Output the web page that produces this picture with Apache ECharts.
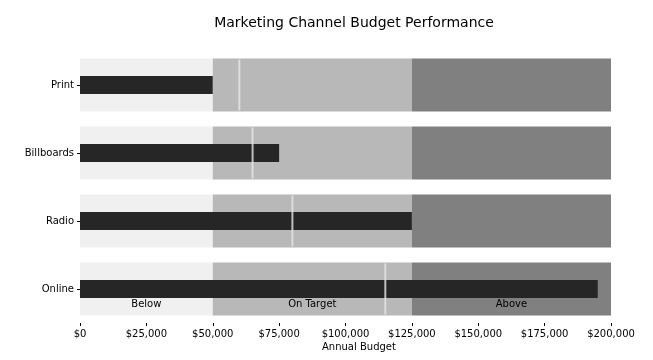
<!DOCTYPE html>
<html><head><meta charset="utf-8">
<script src="https://cdn.jsdelivr.net/npm/echarts@6/dist/echarts.min.js"></script>
<style>html,body{margin:0;padding:0;background:#fff}#c{width:653px;height:360px}</style>
</head><body><div id="c"></div>
<script>
const categories = ['Print', 'Billboards', 'Radio', 'Online'];
const actual = [50000, 75000, 125000, 195000];
const target = [60000, 65000, 80000, 115000];
const rangeLimits = [50000, 125000, 200000];
const rangeNames = ['Below', 'On Target', 'Above'];
const rangeColors = ['#f0f0f0', '#b8b8b8', '#808080'];
const xTicks = [0, 25000, 50000, 75000, 100000, 125000, 150000, 175000, 200000];

const font = 'DejaVu Sans';
const fmt = v => '$' + v.toLocaleString('en-US');

const bandSeries = rangeLimits.map((lim, i) => {
  const prev = i === 0 ? 0 : rangeLimits[i - 1];
  return {
    type: 'bar', stack: 'bands', yAxisIndex: 0, barWidth: 53, silent: true,
    itemStyle: { color: rangeColors[i] },
    data: categories.map((c, k) => ({
      value: lim - prev,
      label: k === categories.length - 1 ? {
        show: true, position: 'insideBottom', distance: 6, formatter: rangeNames[i],
        color: '#000', fontFamily: font, fontSize: 10
      } : { show: false }
    }))
  };
});

const chart = echarts.init(document.getElementById('c'));
chart.setOption({
  animation: false,
  backgroundColor: '#fff',
  title: { text: 'Marketing Channel Budget Performance', left: 349, top: 11, textAlign: 'center',
    textStyle: { fontFamily: font, fontSize: 14, fontWeight: 'normal', color: '#000' } },
  grid: { left: 80, right: 42, top: 51, bottom: 37 },
  xAxis: {
    type: 'value', min: 0, max: 200000, interval: 25000,
    axisLine: { show: false }, splitLine: { show: false },
    axisTick: { show: true, length: 3, lineStyle: { color: '#000' } },
    axisLabel: { formatter: fmt, fontFamily: font, fontSize: 10, color: '#000', margin: 6 }
  },
  yAxis: [
    { type: 'category', data: categories, inverse: true,
      axisLine: { show: false }, axisTick: { show: true, alignWithLabel: true, length: 3, lineStyle: { color: '#000' } },
      axisLabel: { fontFamily: font, fontSize: 10, color: '#000', margin: 6 } },
    { type: 'category', data: categories, inverse: true, show: false }
  ],
  graphic: [{ type: 'text', left: 322, top: 342,
    style: { text: 'Annual Budget', fontFamily: font, fontSize: 10, fill: '#000' } }],
  series: [
    ...bandSeries,
    { type: 'bar', yAxisIndex: 1, barWidth: 18, itemStyle: { color: '#262626' }, data: actual, z: 3 },
    { type: 'scatter', yAxisIndex: 1, symbol: 'rect', symbolSize: [2, 51], z: 4,
      itemStyle: { color: '#e6e6e6' },
      data: target.map((t, i) => [t, categories[i]]) }
  ]
});
</script></body></html>
